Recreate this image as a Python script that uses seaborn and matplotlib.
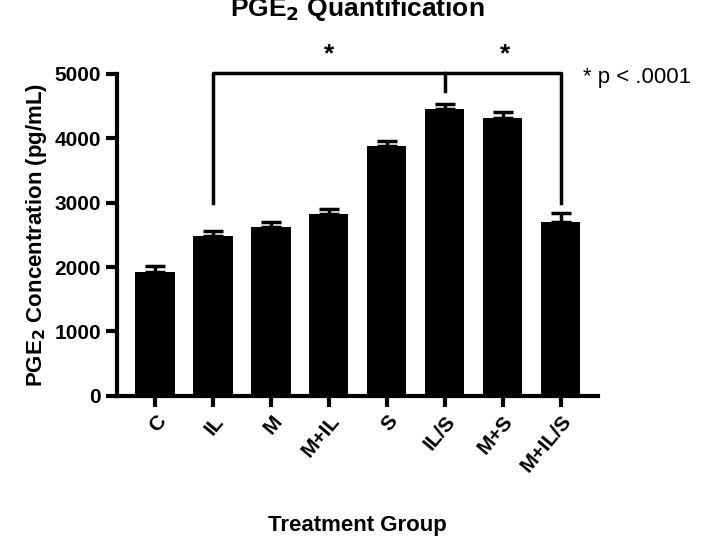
import numpy as np
import matplotlib.pyplot as plt
import seaborn as sns
import pandas as pd

plt.rcParams['font.family'] = 'Liberation Sans'
plt.rcParams['font.weight'] = 'bold'

# Datos
grupos = ['C', 'IL', 'M', 'M+IL', 'S', 'IL/S', 'M+S', 'M+IL/S']
medias = [1922, 2482, 2622, 2824, 3881, 4461, 4321, 2694]
errores = [100, 83, 83, 78, 72, 78, 83, 145]

df = pd.DataFrame({'grupo': grupos, 'pge2': medias})

fig = plt.figure(figsize=(7.09, 5.40), dpi=100)
ax = fig.add_axes([0.165, 0.267, 0.678, 0.596])

sns.barplot(data=df, x='grupo', y='pge2', color='black', width=0.68,
            errorbar=None, ax=ax, saturation=1)
x = np.arange(len(grupos))
ax.errorbar(x, medias, yerr=[np.zeros(len(errores)), errores], fmt='none',
            ecolor='black', elinewidth=2.5, capsize=7, capthick=2.5)

ax.set_xlim(-0.655, 7.64)
ax.set_ylim(0, 5000)
ax.set_yticks([0, 1000, 2000, 3000, 4000, 5000])
ax.tick_params(width=3, length=8, labelsize=15)
plt.setp(ax.get_xticklabels(), rotation=50, ha='right', rotation_mode='anchor', fontweight='bold')
plt.setp(ax.get_yticklabels(), fontweight='bold')
for s in ['top', 'right']:
    ax.spines[s].set_visible(False)
for s in ['left', 'bottom']:
    ax.spines[s].set_linewidth(3)

ax.set_xlabel('Treatment Group', fontsize=16, fontweight='bold', labelpad=28)
ax.set_ylabel('PGE$_\\mathbf{2}$ Concentration (pg/mL)', fontsize=16, fontweight='bold')
ax.set_title('PGE$_\\mathbf{2}$ Quantification', fontsize=19, fontweight='bold', pad=42)

# Corchetes de significancia
top = 5015
ax.plot([1, 1, 7, 7], [2995, top, top, 2995], color='black', lw=2.5, clip_on=False)
ax.plot([5, 5], [top, 4730], color='black', lw=2.5, clip_on=False)
ax.text(3.0, 5300, '*', ha='center', va='center', fontsize=19, fontweight='bold')
ax.text(6.05, 5300, '*', ha='center', va='center', fontsize=19, fontweight='bold')
ax.text(7.38, 4950, '* p < .0001', ha='left', va='center', fontsize=16, fontweight='normal', clip_on=False)

fig.savefig('out.png', dpi=100)
